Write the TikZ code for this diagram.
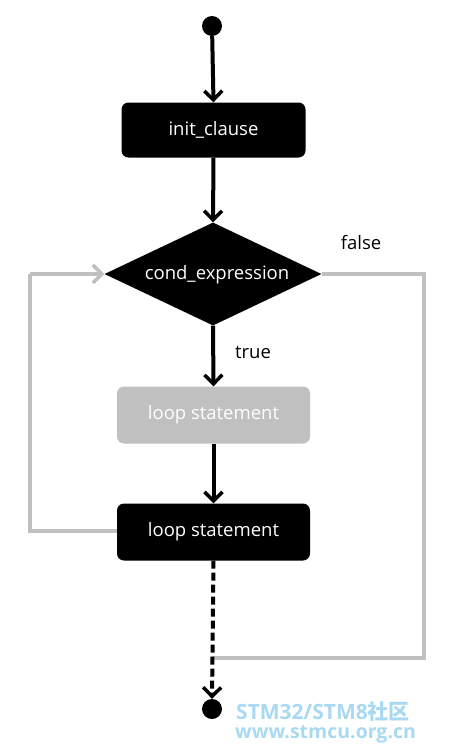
\documentclass[tikz,border=0pt]{standalone}
\usepackage{fontspec}
\setmainfont{Open Sans}
\newfontfamily\cjkfont{Noto Sans CJK SC}
\usetikzlibrary{arrows.meta,shapes.geometric}
\definecolor{loopgray}{HTML}{C0C0C0}
\definecolor{wmblue}{HTML}{A9D9F2}
\begin{document}
\begin{tikzpicture}[x=1pt,y=-1pt,
  txt/.style={font=\fontsize{18.5}{22}\selectfont},
  blackbox/.style={draw=none,fill=black,rounded corners=7pt,minimum width=184pt,minimum height=55pt,text=white,txt,inner sep=0pt},
  graybox/.style={blackbox,fill=loopgray,minimum width=193pt,minimum height=57pt},
  dotnode/.style={circle,fill=black,draw=none,minimum size=20pt,inner sep=0pt},
  tip/.style={-{Straight Barb[length=9pt,width=18pt,line width=3.5pt]}},
  flow/.style={line width=4pt,tip},
  back/.style={line width=3.5pt,loopgray},
  lbl/.style={txt,text=black}]
\useasboundingbox (0,0) rectangle (469,755);
\node[dotnode] (start) at (212,26) {};
\node[blackbox] (init) at (213.5,130) {init\_clause};
\node[diamond,fill=black,draw=none,inner sep=0pt,minimum width=217pt,minimum height=103pt] (cond) at (213,274) {};
\node[text=white,txt] (condtext) at (217,275) {cond\_expression};
\node[graybox] (body) at (213.5,415) {loop statement};
\node[graybox,fill=black] (step2) at (213.5,532) {loop statement};
\node[dotnode] (stop) at (212,709) {};
\coordinate (lc1) at (30,531);
\coordinate (lc2) at (30,274);
\coordinate (rc1) at (424,274);
\coordinate (rc2) at (424,658);
\coordinate (rc3) at (212,658);
\node[lbl] (falselbl) at (361,243) {false};
\node[lbl] (truelbl) at (253,352) {true};
% gray loops
\draw[back,line join=miter] (step2.west |- lc1) -- (lc1) -- (lc2);
\draw[back,tip] (lc2) -- (cond.west);
\draw[back,line join=miter] (cond.east) -- (rc1) -- (rc2) -- (rc3);
% flow arrows
\draw[flow] (start) -- (init.north);
\draw[flow] (init.south) -- (cond.north);
\draw[flow] (cond.south) -- (body.north);
\draw[flow] (body.south) -- (step2.north);
\draw[flow,dash pattern=on 8pt off 4pt] (step2.south) -- (stop.north);
% watermark
\node[anchor=west,text=wmblue,font=\bfseries\fontsize{21}{24}\selectfont,inner sep=0pt] (wm1) at (236,711) {STM32/STM8{\cjkfont\bfseries 社区}};
\node[anchor=west,text=wmblue,font=\bfseries\fontsize{19.5}{22}\selectfont,inner sep=0pt] (wm2) at (235,734) {www.stmcu.org.cn};
\end{tikzpicture}
\end{document}
